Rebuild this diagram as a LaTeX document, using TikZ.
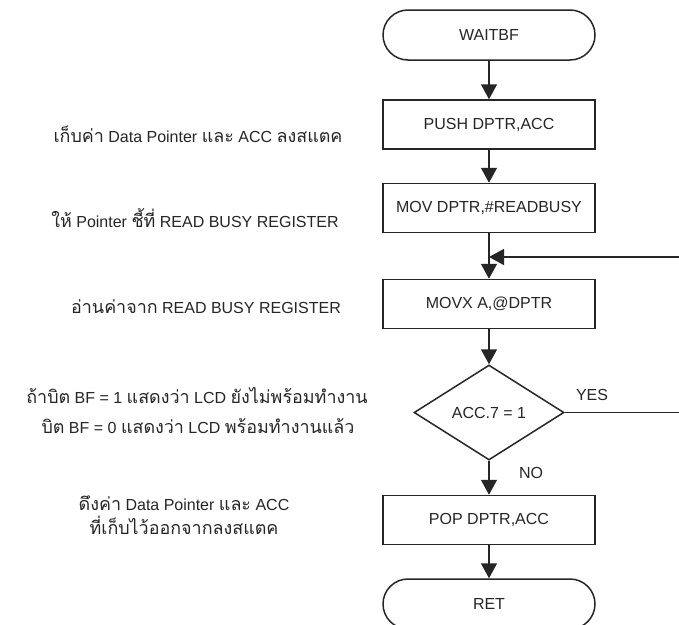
\documentclass[tikz,border=0pt]{standalone}
\usepackage{fontspec}
\setmainfont{Liberation Sans}
\newfontfamily\thai[Script=Thai,Scale=1.12]{Loma}
\usetikzlibrary{shapes.geometric,arrows.meta}

\begin{document}
\begin{tikzpicture}[x=1pt,y=-1pt,
  every node/.style={font=\fontsize{16}{19}\selectfont, text=black!85},
  procbox/.style={draw=black!85, line width=1.5pt, rectangle,
    minimum width=212pt, minimum height=49pt, inner sep=0pt},
  termbox/.style={procbox, minimum height=50pt, rounded corners=25pt},
  decide/.style={draw=black!85, line width=1.5pt, diamond, aspect=1.58,
    minimum width=150pt, minimum height=95pt, inner sep=0pt},
  flow/.style={draw=black!85, line width=1.5pt,
    -{Triangle[width=16pt,length=15pt]}},
  note/.style={anchor=base, inner sep=0pt}
]
\useasboundingbox (0,0) rectangle (679,624);
\fill[white] (0,0) rectangle (679,624);

% flowchart column
\node[termbox] (start) at (489,35) {WAITBF};
\node[procbox] (push) at (489,124.5) {PUSH DPTR,ACC};
\node[procbox] (mov)  at (489,208) {MOV DPTR,\#READBUSY};
\node[procbox] (movx) at (489,304) {MOVX A,@DPTR};
\node[decide]  (test) at (489,412.5) {ACC.7 = 1};
\node[procbox] (pop)  at (489,520) {POP DPTR,ACC};
\node[termbox] (ret)  at (489,604) {RET};

\coordinate (join) at (489,257);
\coordinate (loopR) at (686,412.5);
\coordinate (loopT) at (686,257);

\draw[flow] (start) -- (push);
\draw[flow] (push) -- (mov);
\draw[flow] (mov) -- (movx);
\draw[flow] (movx) -- (test);
\draw[flow] (test) -- (pop);
\draw[flow] (pop) -- (ret);
\draw[flow] (test.east) -- (loopR) -- (loopT) -- (join);

\node[note] (yes) at (592,400) {YES};
\node[note] (no)  at (531,478) {NO};

% comments beside each step
\node[note] (c1) at (198,142) {{\thai เก็บค่า} Data Pointer {\thai และ} ACC {\thai ลงสแตค}};
\node[note] (c2) at (195,227) {{\thai ให้} Pointer {\thai ชี้ที่} READ BUSY REGISTER};
\node[note] (c3) at (206,313) {{\thai อ่านค่าจาก} READ BUSY REGISTER};
\node[note] (c4) at (197,403) {{\thai ถ้าบิต} BF = 1 {\thai แสดงว่า} LCD {\thai ยังไม่พร้อมทำงาน}};
\node[note] (c5) at (198,433) {{\thai บิต} BF = 0 {\thai แสดงว่า} LCD {\thai พร้อมทำงานแล้ว}};
\node[note] (c6) at (184,510) {{\thai ดึงค่า} Data Pointer {\thai และ} ACC};
\node[note] (c7) at (184,534) {\thai ที่เก็บไว้ออกจากลงสแตค};
\end{tikzpicture}
\end{document}
